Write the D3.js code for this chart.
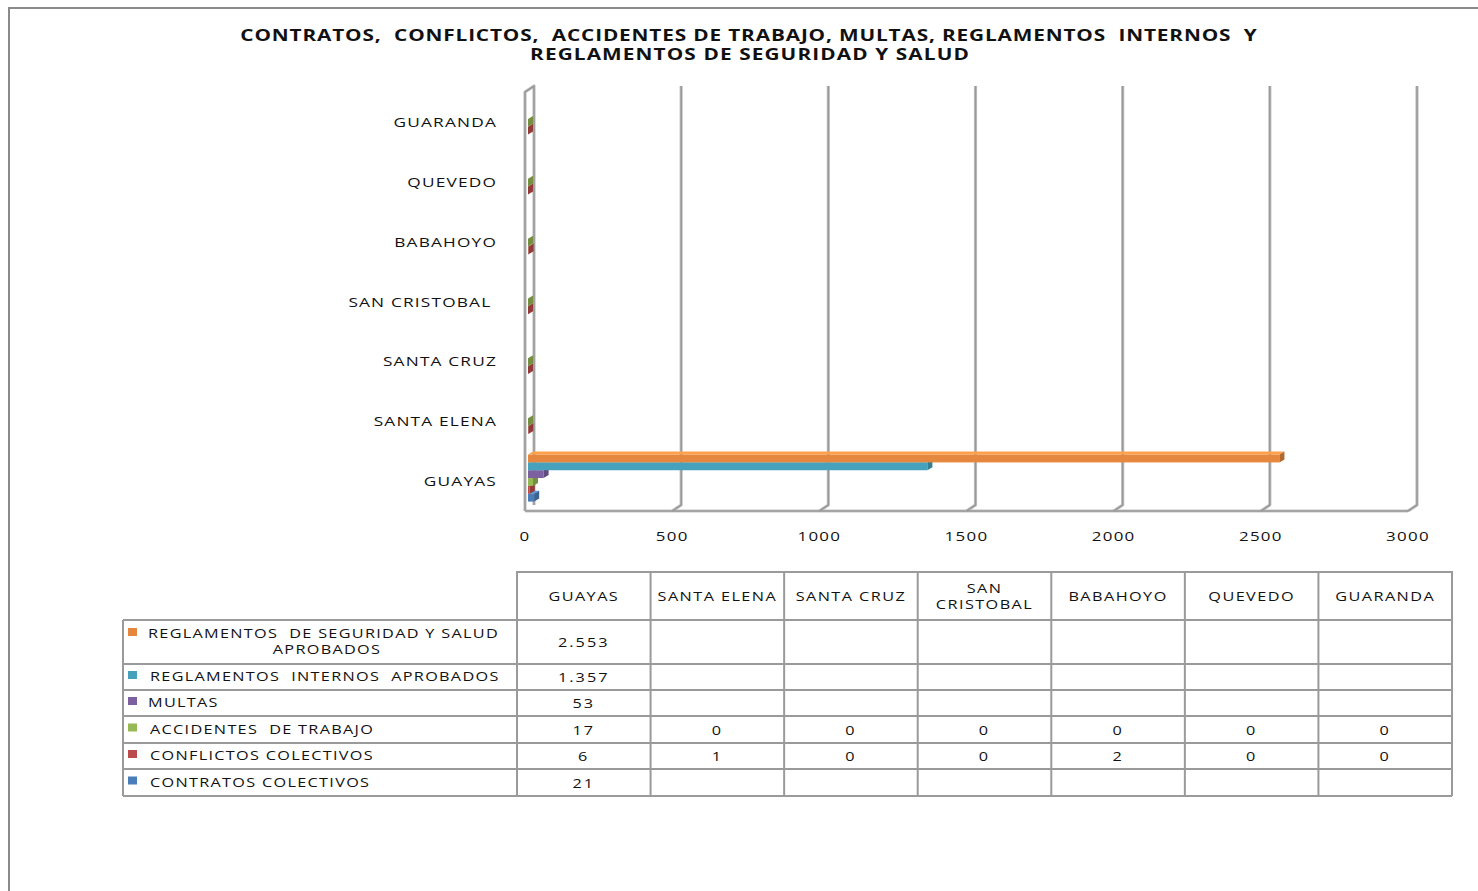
<!DOCTYPE html>
<html><head><meta charset="utf-8">
<script src="https://cdn.jsdelivr.net/npm/d3@7"></script>
<style>
html,body{margin:0;padding:0;background:#fff;}
svg{display:block;}
text{font-family:"Open Sans",sans-serif;fill:#111;white-space:pre;}
</style></head><body>
<svg id="chart" width="1478" height="891"></svg>
<script>
// ---------------- DATA ----------------
const categories = ["GUAYAS","SANTA ELENA","SANTA CRUZ","SAN CRISTOBAL","BABAHOYO","QUEVEDO","GUARANDA"];
const categoryLabels = ["GUAYAS","SANTA ELENA","SANTA CRUZ","SAN CRISTOBAL ","BABAHOYO","QUEVEDO","GUARANDA"];
const tableHeaders = [["GUAYAS"],["SANTA ELENA"],["SANTA CRUZ"],["SAN","CRISTOBAL"],["BABAHOYO"],["QUEVEDO"],["GUARANDA"]];
const seriesNames = ["REGLAMENTOS DE SEGURIDAD Y SALUD APROBADOS","REGLAMENTOS INTERNOS APROBADOS","MULTAS","ACCIDENTES DE TRABAJO","CONFLICTOS COLECTIVOS","CONTRATOS COLECTIVOS"];
const seriesLabelLines = [["REGLAMENTOS  DE SEGURIDAD Y SALUD","APROBADOS"],["REGLAMENTOS  INTERNOS  APROBADOS"],["MULTAS"],["ACCIDENTES  DE TRABAJO"],["CONFLICTOS COLECTIVOS"],["CONTRATOS COLECTIVOS"]];
const reglamentosSeguridad = [2553, null, null, null, null, null, null];
const reglamentosInternos  = [1357, null, null, null, null, null, null];
const multas               = [53,   null, null, null, null, null, null];
const accidentesTrabajo    = [17, 0, 0, 0, 0, 0, 0];
const conflictosColectivos = [6, 1, 0, 0, 2, 0, 0];
const contratosColectivos  = [21,   null, null, null, null, null, null];
const xTicks = [0, 500, 1000, 1500, 2000, 2500, 3000];
const titleLines = ["CONTRATOS,  CONFLICTOS,  ACCIDENTES DE TRABAJO, MULTAS, REGLAMENTOS  INTERNOS  Y","REGLAMENTOS DE SEGURIDAD Y SALUD"];
const seriesColors = ["#E5873E","#46A2BC","#7D60A0","#97B954","#BC4C49","#4A7EBB"];

// ---------------- SETUP ----------------
const seriesValues = [reglamentosSeguridad, reglamentosInternos, multas, accidentesTrabajo, conflictosColectivos, contratosColectivos];
const series = seriesNames.map((n,i)=>({name:n, color:seriesColors[i], lines:seriesLabelLines[i], values:seriesValues[i]}));
const es = d3.formatLocale({decimal:",", thousands:".", grouping:[3], currency:["$",""]});
const fmt = es.format(",d");

const svg = d3.select("#chart");
const SX = 1.3;   // horizontal stretch of glyphs
function stext(g, x, y, str, o={}) {
  return g.append("text")
    .attr("transform", `translate(${x},${y}) scale(${o.sx||SX},1)`)
    .attr("text-anchor", o.anchor||"start")
    .style("font-size", (o.size||13)+"px")
    .style("font-weight", o.weight||"normal")
    .style("letter-spacing", (o.ls==null?0.6:o.ls)+"px")
    .text(str);
}

// outer frame
svg.append("path").attr("d","M9,891 L9,8 L1478,8").attr("fill","none").attr("stroke","#8a8a8a").attr("stroke-width",2);

// title
stext(svg, 749, 41, titleLines[0], {anchor:"middle", size:16, weight:"bold", ls:0.65});
stext(svg, 750, 60, titleLines[1], {anchor:"middle", size:16, weight:"bold", ls:0.85});

// ---------------- CHART ----------------
const x = d3.scaleLinear().domain([0,3000]).range([525,1408]);
const y = d3.scaleBand().domain(categories).range([511,92]);
const yi = d3.scaleBand().domain(seriesNames).range([0, y.bandwidth()]).paddingOuter(0.82);
const DX = 9, DY = 6;            // wall depth
const OX = 3, OY = -3;           // bar front offset
const BX = 5, BY = 3;            // bar depth
const floorY = y.range()[0], topY = y.range()[1];

function gridLayer(col, w) {
  const grid = svg.append("g").attr("fill","none").attr("stroke",col).attr("stroke-width",w).attr("stroke-linejoin","round");
  grid.append("path").attr("d",`M${x(0)},${floorY} L${x(0)},${topY} L${x(0)+DX},${topY-DY} L${x(0)+DX},${floorY-DY}`);
  xTicks.filter(t=>t>0).forEach(t=>{
    grid.append("path").attr("d",`M${x(t)+DX},${topY-DY} L${x(t)+DX},${floorY-DY} L${x(t)},${floorY}`);
  });
  grid.append("path").attr("d",`M${x(0)},${floorY} L${x(3000)},${floorY}`);
}
gridLayer("#c4c4c4", 3.2);
gridLayer("#9a9a9a", 1.6);

// axis labels
const xAxis = d3.axisBottom(x).tickValues(xTicks).tickSize(0).tickFormat(d3.format("d"));
const ax = svg.append("g").attr("transform",`translate(0,${floorY+19})`).call(xAxis);
ax.select(".domain").remove();
ax.selectAll("text").remove();
xTicks.forEach(t=> stext(svg, x(t), 541, String(t), {anchor:"middle", size:13, ls:1}));

// category labels
categories.forEach((c,i)=> stext(svg, 497, y(c)+y.bandwidth()/2+5, categoryLabels[i], {anchor:"end", size:13.3, ls:0.9}));

// 3D bars (draw bottom series first)
const bars = svg.append("g");
series.slice().reverse().forEach(s=>{
  categories.forEach((c,ci)=>{
    const v = s.values[ci];
    if (v==null) return;
    const x0 = x(0)+OX, x1 = x(v)+OX;
    const yt = y(c)+yi(s.name)+OY, h = yi.bandwidth();
    const col = d3.color(s.color);
    const g = bars.append("g");
    g.append("path").attr("d",`M${x0},${yt} L${x0+BX},${yt-BY} L${x1+BX},${yt-BY} L${x1},${yt} Z`).attr("fill", col.brighter(0.5));
    g.append("rect").attr("x",x0).attr("y",yt).attr("width",Math.max(0,x1-x0)).attr("height",h).attr("fill",col);
    g.append("path").attr("d",`M${x1},${yt} L${x1+BX},${yt-BY} L${x1+BX},${yt-BY+h} L${x1},${yt+h} Z`).attr("fill", col.darker(0.7));
  });
});

// ---------------- TABLE ----------------
const tx = d3.scaleBand().domain(categories).range([517,1452]);
const legendLeft = 123;
const rowHeights = [44, 26, 26, 27, 26, 27];
const headerTop = 572, bodyTop = 620;
const rowTops = [];
rowHeights.reduce((acc,h)=>{rowTops.push(acc); return acc+h;}, bodyTop);
const bodyBottom = bodyTop + d3.sum(rowHeights);
const tbl = svg.append("g").attr("stroke","#9a9a9a").attr("stroke-width",2).attr("fill","none");
tbl.append("path").attr("d",`M${tx.range()[0]},${bodyTop} L${tx.range()[0]},${headerTop} L${tx.range()[1]},${headerTop} L${tx.range()[1]},${bodyTop}`);
categories.forEach(c=>{
  tbl.append("line").attr("x1",tx(c)).attr("x2",tx(c)).attr("y1",headerTop).attr("y2",bodyBottom);
});
tbl.append("line").attr("x1",tx.range()[1]).attr("x2",tx.range()[1]).attr("y1",headerTop).attr("y2",bodyBottom);
tbl.append("line").attr("x1",legendLeft).attr("x2",legendLeft).attr("y1",bodyTop).attr("y2",bodyBottom);
rowTops.concat([bodyBottom]).forEach(yy=>{
  tbl.append("line").attr("x1",legendLeft).attr("x2",tx.range()[1]).attr("y1",yy).attr("y2",yy);
});

// header text
categories.forEach((c,i)=>{
  const lines = tableHeaders[i];
  const cx = tx(c)+tx.bandwidth()/2;
  const cy = (headerTop+bodyTop)/2;
  lines.forEach((l,li)=> stext(svg, cx, cy+5+(li-(lines.length-1)/2)*16, l, {anchor:"middle", size:12.5, ls:1.1}));
});

// rows
series.forEach((s,ri)=>{
  const top = rowTops[ri], h = rowHeights[ri];
  const cy = top + h/2;
  const lines = s.lines;
  const firstY = cy + 4 - (lines.length-1)*8;
  svg.append("rect").attr("x",128).attr("y",firstY-10).attr("width",9).attr("height",8).attr("fill",s.color);
  lines.forEach((l,li)=>{
    if (li===0) stext(svg, ri===0||ri===2 ? 148 : 150, firstY+li*16, l, {size:12.5, ls:1});
    else stext(svg, 327, firstY+li*16, l, {anchor:"middle", size:12.5, ls:1});
  });
  categories.forEach((c,ci)=>{
    const v = s.values[ci];
    if (v==null) return;
    stext(svg, tx(c)+tx.bandwidth()/2, cy+5, fmt(v), {anchor:"middle", size:12.5, ls:1.6});
  });
});
</script>
</body></html>
